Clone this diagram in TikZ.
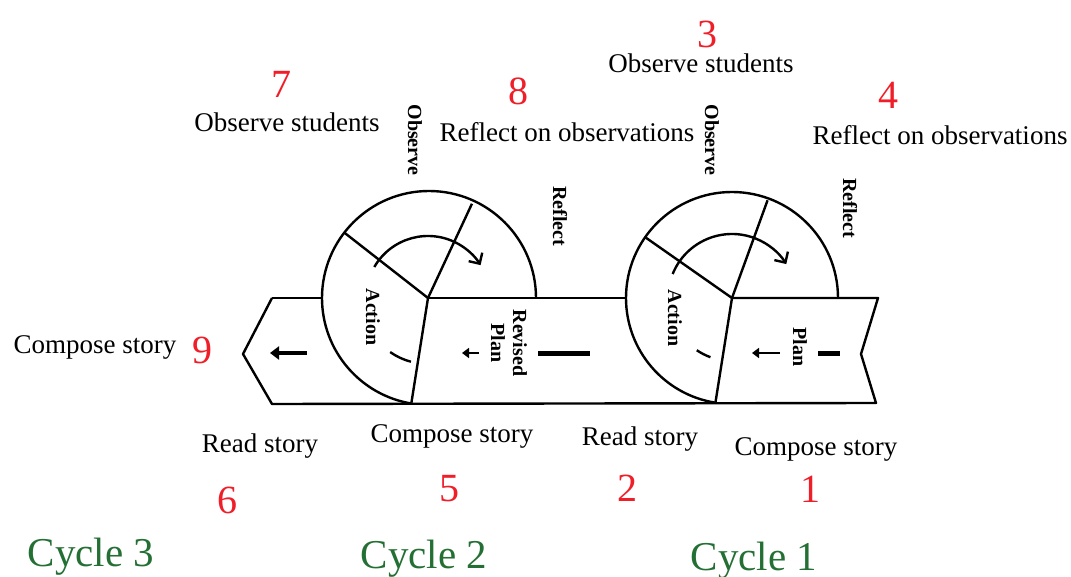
\documentclass[tikz,border=0pt]{standalone}
\usepackage{fontspec}
\setmainfont{Liberation Serif}
\usetikzlibrary{arrows.meta}

\definecolor{numred}{RGB}{240,30,40}
\definecolor{cyclegreen}{RGB}{36,112,52}

\begin{document}
\begin{tikzpicture}[x=1pt, y=1pt,
    outline/.style={line width=2.4pt, draw=black, line join=round},
    txt/.style={font=\fontsize{27}{30}\selectfont, anchor=base, inner sep=0pt},
    num/.style={font=\fontsize{40}{44}\selectfont, text=numred, inner sep=0pt},
    cyc/.style={font=\fontsize{41}{46}\selectfont, text=cyclegreen, anchor=base, inner sep=0pt},
    phase/.style={font=\fontsize{20}{22}\selectfont\bfseries, rotate=-90, inner sep=0pt, align=center},
    turn/.style={line width=2.4pt, -{Straight Barb[length=8pt, width=16pt, line width=2.4pt]}},
    flow/.style={line width=4pt, -{Triangle[length=9pt, width=13pt]}},
    smallflow/.style={line width=2.6pt, -{Triangle[length=7pt, width=10pt]}},
    bar/.style={line width=5pt}
]
\useasboundingbox (0,0) rectangle (1071,-577);

% hubs of the two wheels
\coordinate (hubA) at (732,-298);
\coordinate (hubB) at (428,-298);

% band ends
\coordinate (tailTop) at (272,-298);
\coordinate (tailTip) at (243,-354);
\coordinate (tailBot) at (272,-404);
\coordinate (headTop) at (878,-298);
\coordinate (headNotch) at (861,-354);
\coordinate (headBot) at (876,-403);

% band
\draw[outline] (tailTop) -- ([xshift=-107pt]hubB);
\draw[outline] (hubB) -- ([xshift=-106pt]hubA);
\draw[outline] (hubA) -- (headTop) -- (headNotch) -- (headBot) -- (tailBot) -- (tailTip) -- (tailTop);

% wheel of cycle 1
\draw[outline] (hubA) ++(0:106) arc[start angle=0, end angle=261, radius=106];
\draw[outline] (hubA) -- ++(70:104);
\draw[outline] (hubA) -- ++(145:106);
\draw[outline] (hubA) -- ++(261:106);
\draw[turn] (hubA) ++(158:64) arc[start angle=158, end angle=32, radius=64];
\draw[outline] (hubA) ++(236:63) arc[start angle=236, end angle=250, radius=63];

% wheel of cycle 2
\draw[outline] (hubB) ++(0:108) arc[start angle=0, end angle=261, radius=107];
\draw[outline] (hubB) -- ++(65:104);
\draw[outline] (hubB) -- ++(142:106);
\draw[outline] (hubB) -- ++(261:106);
\draw[turn] (hubB) ++(150:62) arc[start angle=150, end angle=32, radius=62];
\draw[outline] (hubB) ++(235:66) arc[start angle=235, end angle=255, radius=66];

% marks along the band
\draw[flow] (307,-353) -- (270,-353);
\draw[smallflow] (479,-353) -- (462,-353);
\draw[bar] (538,-353) -- (590,-353);
\draw[smallflow] (780,-353) -- (752,-353);
\draw[bar] (818,-353) -- (840,-353);

% wheel labels
\node[phase] (obsA) at (712,-140) {Observe};
\node[phase] (refA) at (850,-208) {Reflect};
\node[phase] (actA) at (675,-318) {Action};
\node[phase] (planA) at (800,-347) {Plan};
\node[phase] (obsB) at (415,-140) {Observe};
\node[phase] (refB) at (560,-216) {Reflect};
\node[phase] (actB) at (373,-317) {Action};
\node[phase] (planB) at (509,-343) {Revised\\Plan};

% steps above
\node[num] (n3) at (707,-34) {3};
\node[txt] (t3) at (701,-73) {Observe students};
\node[num] (n7) at (281,-84) {7};
\node[txt] (t7) at (287,-132) {Observe students};
\node[num] (n8) at (518,-91) {8};
\node[txt] (t8) at (567,-142) {Reflect on observations};
\node[num] (n4) at (888,-95) {4};
\node[txt] (t4) at (940,-145) {Reflect on observations};

% steps below
\node[txt] (t9) at (95,-353) {Compose story};
\node[num] (n9) at (202,-350) {9};
\node[txt] (t6) at (260,-452) {Read story};
\node[num] (n6) at (227,-500) {6};
\node[txt] (t5) at (452,-442) {Compose story};
\node[num] (n5) at (449,-489) {5};
\node[txt] (t2) at (640,-445) {Read story};
\node[num] (n2) at (627,-488) {2};
\node[txt] (t1) at (816,-455) {Compose story};
\node[num] (n1) at (810,-489) {1};

% cycles
\node[cyc] (c3) at (91,-566) {Cycle 3};
\node[cyc] (c2) at (424,-568) {Cycle 2};
\node[cyc] (c1) at (754,-570) {Cycle 1};

\end{tikzpicture}
\end{document}
